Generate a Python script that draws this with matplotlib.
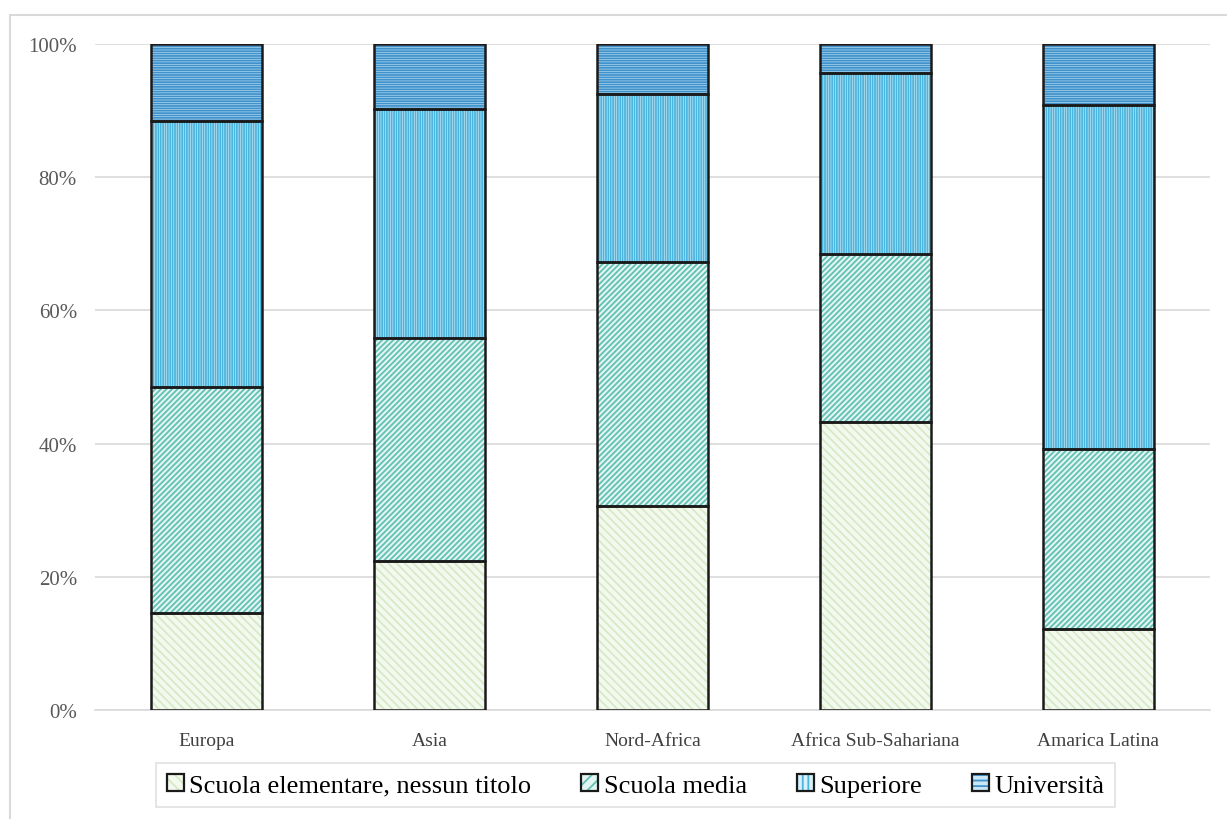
import numpy as np
import matplotlib
matplotlib.use('Agg')
import matplotlib.pyplot as plt
from matplotlib.patches import Patch, Rectangle
from matplotlib.legend_handler import HandlerTuple

plt.rcParams['font.family'] = ['Liberation Serif', 'DejaVu Serif']
plt.rcParams['hatch.linewidth'] = 1.3

# data (share of each level, %)
regions = ['Europa', 'Asia', 'Nord-Africa', 'Africa Sub-Sahariana', 'Amarica Latina']
levels = ['Scuola elementare, nessun titolo', 'Scuola media', 'Superiore', 'Università']
elementare = [14.6, 22.4, 30.6, 43.2, 12.2]
media = [33.9, 33.5, 36.7, 25.3, 27.0]
superiore = [39.9, 34.4, 25.2, 27.1, 51.7]
universita = [11.6, 9.7, 7.5, 4.4, 9.1]
yticks = [0, 20, 40, 60, 80, 100]

series = [elementare, media, superiore, universita]
faces = ['#f3f9ee', '#e2f5f2', '#d8f1fa', '#c9e6f6']
hatchcol = ['#d6eac6', '#62c1b3', '#4cb5de', '#3f92cb']
hatches = ['\\\\\\\\', '//////', '|||||||', '-------']

fig = plt.figure(figsize=(12.27, 8.2), dpi=100)
ax = fig.add_axes([0.0774, 0.133, 0.9087, 0.812])

x = np.arange(len(regions))
bottom = np.zeros(len(regions))
handles = []
for vals, fc, hc, h in zip(series, faces, hatchcol, hatches):
    vals = np.array(vals) / 100
    ax.bar(x, vals, 0.5, bottom=bottom, facecolor=fc, edgecolor=hc,
           hatch=h, linewidth=0, zorder=2)
    ax.bar(x, vals, 0.5, bottom=bottom, fill=False, edgecolor='#1a1a1a',
           linewidth=1.8, zorder=3)
    bottom += vals
    p1 = Patch(facecolor=fc, edgecolor=hc, hatch=h[:3], linewidth=0)
    p2 = Patch(fill=False, edgecolor='#1a1a1a', linewidth=1.6)
    handles.append((p1, p2))

ax.set_xlim(-0.5, 4.5)
ax.set_ylim(0, 1)
ax.set_yticks([t / 100 for t in yticks])
ax.set_yticklabels([f'{t}%' for t in yticks])
ax.set_xticks(x)
ax.set_xticklabels(regions)
ax.yaxis.grid(True, color='#d9d9d9', linewidth=1.2, zorder=0)
ax.set_axisbelow(True)
for s in ['top', 'right', 'left']:
    ax.spines[s].set_visible(False)
ax.spines['bottom'].set_color('#d9d9d9')
ax.spines['bottom'].set_linewidth(1.2)
ax.tick_params(length=0)
ax.tick_params(axis='y', labelsize=15, labelcolor='#595959', pad=13)
ax.tick_params(axis='x', labelsize=14, labelcolor='#404040', pad=16)

leg = fig.legend(handles, levels, handler_map={tuple: HandlerTuple(ndivide=1)},
                 loc='center', bbox_to_anchor=(0.518, 0.041), ncol=4,
                 fontsize=19, frameon=True, fancybox=False, edgecolor='#d9d9d9',
                 handlelength=0.65, handleheight=0.65, handletextpad=0.2,
                 columnspacing=1.9, borderpad=0.4)
leg.get_frame().set_linewidth(1.2)

fig.patches.append(Rectangle((0.008, -0.1), 1.2, 1.0805, transform=fig.transFigure,
                             fill=False, edgecolor='#d9d9d9', linewidth=1.5))

fig.savefig('out.png', dpi=100)
